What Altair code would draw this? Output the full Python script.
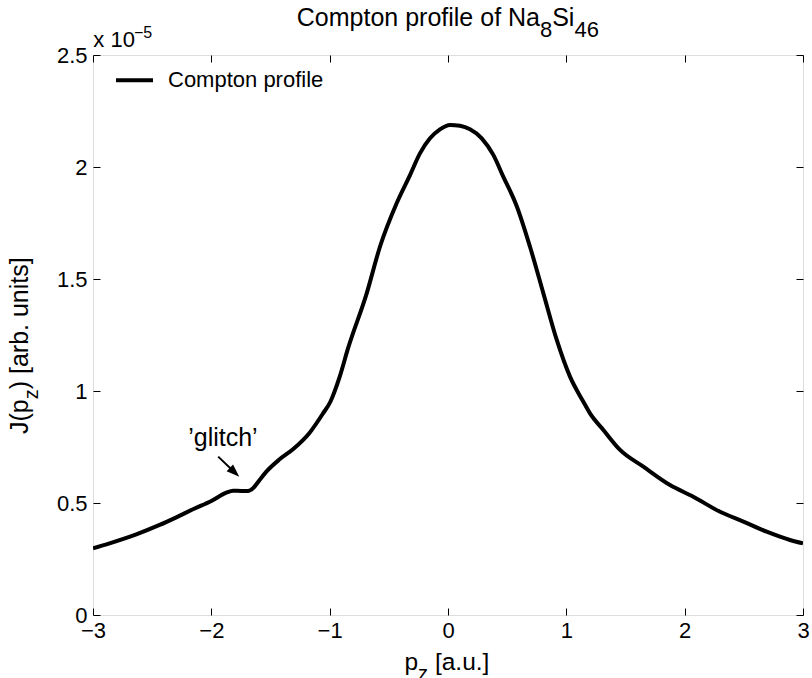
import altair as alt
import pandas as pd

# ---- data (J in units of 1e-5) ----
PZ = [-3.0, -2.86, -2.634, -2.437, -2.296, -2.155, -2.0, -1.873, -1.817, -1.746,
      -1.69, -1.648, -1.592, -1.535, -1.423, -1.31, -1.169, -1.056, -0.994, -0.915,
      -0.845, -0.687, -0.575, -0.434, -0.321, -0.237, -0.152, -0.068, 0.017,
      0.101, 0.186, 0.285, 0.383, 0.467, 0.581, 0.693, 0.806, 0.919, 1.031,
      1.144, 1.2, 1.313, 1.454, 1.651, 1.876, 2.073, 2.299, 2.496, 2.693,
      2.89, 3.0]
J = [0.298, 0.320, 0.360, 0.402, 0.436, 0.472, 0.509, 0.546, 0.555, 0.554,
     0.554, 0.566, 0.603, 0.640, 0.695, 0.740, 0.814, 0.900, 0.952, 1.064,
     1.190, 1.436, 1.644, 1.838, 1.964, 2.061, 2.128, 2.168, 2.188,
     2.184, 2.168, 2.128, 2.054, 1.957, 1.825, 1.644, 1.436, 1.228, 1.064,
     0.952, 0.900, 0.826, 0.737, 0.662, 0.580, 0.528, 0.461, 0.417, 0.372,
     0.335, 0.320]
SERIES = "Compton profile"
X_TICKS = [-3, -2, -1, 0, 1, 2, 3]
Y_TICKS = [0, 0.5, 1, 1.5, 2, 2.5]

# annotation ("glitch") in data coordinates
GLITCH_TEXT = "\u2019glitch\u2019"
GLITCH_POS = [-1.902, 0.754]
ARROW_X = [-1.942, -1.835]
ARROW_Y = [0.707, 0.653]
ARROW_TIP = [-1.764, 0.617]

FONT = "Liberation Sans"
W, H = 710, 560

df = pd.DataFrame({"pz": PZ, "J": J, "series": SERIES})

xscale = alt.Scale(domain=[-3, 3], nice=False, zero=False)
yscale = alt.Scale(domain=[0, 2.5], nice=False, zero=False)

main = alt.Chart(df).mark_line(color="black", strokeWidth=4, clip=True,
                               interpolate="monotone", strokeJoin="round").encode(
    x=alt.X("pz:Q", scale=xscale,
            axis=alt.Axis(orient="bottom", values=X_TICKS, format="d", offset=-7,
                          tickSize=7, domain=False, grid=False, title=None,
                          labelFontSize=22, labelFont=FONT, labelColor="black",
                          labelPadding=5, tickColor="black", labelFlush=False)),
    y=alt.Y("J:Q", scale=yscale,
            axis=alt.Axis(orient="left", values=Y_TICKS, format="~g", offset=-7,
                          tickSize=7, domain=False, grid=False, title=None,
                          labelFontSize=22, labelFont=FONT, labelColor="black",
                          labelPadding=6, tickColor="black", labelFlush=False)),
    color=alt.Color("series:N", scale=alt.Scale(range=["black"]),
                    legend=alt.Legend(orient="none", legendX=21, legendY=4.8,
                                      title=None, symbolType="stroke",
                                      symbolSize=1369, symbolStrokeWidth=4,
                                      labelFontSize=22, labelFont=FONT,
                                      labelColor="black", labelOffset=13,
                                      padding=0)),
)

frame = alt.Chart(df).mark_line(strokeOpacity=0).encode(
    x=alt.X("pz:Q", scale=xscale,
            axis=alt.Axis(orient="top", values=X_TICKS, offset=-7, tickSize=7,
                          domain=False, grid=False, title=None, labels=False,
                          tickColor="black")),
    y=alt.Y("J:Q", scale=yscale,
            axis=alt.Axis(orient="right", values=Y_TICKS, offset=-7, tickSize=7,
                          domain=False, grid=False, title=None, labels=False,
                          tickColor="black")),
)

glitch = alt.Chart(pd.DataFrame({"x": [GLITCH_POS[0]], "y": [GLITCH_POS[1]],
                                 "t": [GLITCH_TEXT]})).mark_text(
    fontSize=25, font=FONT, align="center", baseline="alphabetic", color="black"
).encode(x=alt.X("x:Q", scale=xscale, axis=None),
         y=alt.Y("y:Q", scale=yscale, axis=None), text="t:N")

shaft = alt.Chart(pd.DataFrame({"x": ARROW_X, "y": ARROW_Y})).mark_line(
    color="black", strokeWidth=2
).encode(x=alt.X("x:Q", scale=xscale, axis=None),
         y=alt.Y("y:Q", scale=yscale, axis=None))

head = alt.Chart(pd.DataFrame({"x": [ARROW_TIP[0]], "y": [ARROW_TIP[1]]})).mark_point(
    shape="M0,0L-0.36,1L0.36,1Z", filled=True, fill="black", strokeWidth=0,
    opacity=1, size=676, angle=133.6
).encode(x=alt.X("x:Q", scale=xscale, axis=None),
         y=alt.Y("y:Q", scale=yscale, axis=None))


def txt(s, x, y, size, angle=0):
    props = dict(text=s, fontSize=size, font=FONT, align="left",
                 baseline="alphabetic", color="black")
    if angle:
        props["angle"] = angle
    return alt.Chart(alt.Data(values=[{}])).mark_text(**props).encode(
        x=alt.value(x), y=alt.value(y))


labels = [
    # title: Compton profile of Na_8Si_46
    txt("Compton profile of Na", 203.8, -29, 25),
    txt("8", 447.0, -17.7, 22),
    txt("Si", 459.2, -29, 25),
    txt("46", 481.4, -17.7, 22),
    # x label: p_z [a.u.]
    txt("p", 311.5, 615, 24.5),
    txt("z", 325.1, 625, 20),
    txt("[a.u.]", 341.9, 615, 24.5),
    # y label: J(p_z) [arb. units]
    txt("J(p", -65, 379, 25, 270),
    txt("z", -55, 344.3, 20, 270),
    txt(") [arb. units]", -65, 334.3, 25, 270),
    # exponent
    txt("x 10", 0.3, -8.3, 22),
    txt("\u22125", 41, -16.7, 16),
]

chart = alt.layer(main, frame, shaft, head, glitch, *labels).resolve_axis(
    x="independent", y="independent"
).properties(
    width=W, height=H,
    autosize=alt.AutoSizeParams(type="none"),
    padding={"left": 93, "top": 55, "right": 9, "bottom": 63},
).configure_view(stroke="black", strokeWidth=1).configure(font=FONT, background="white")

chart.save("out.html", embed_options={"renderer": "svg", "actions": False})
